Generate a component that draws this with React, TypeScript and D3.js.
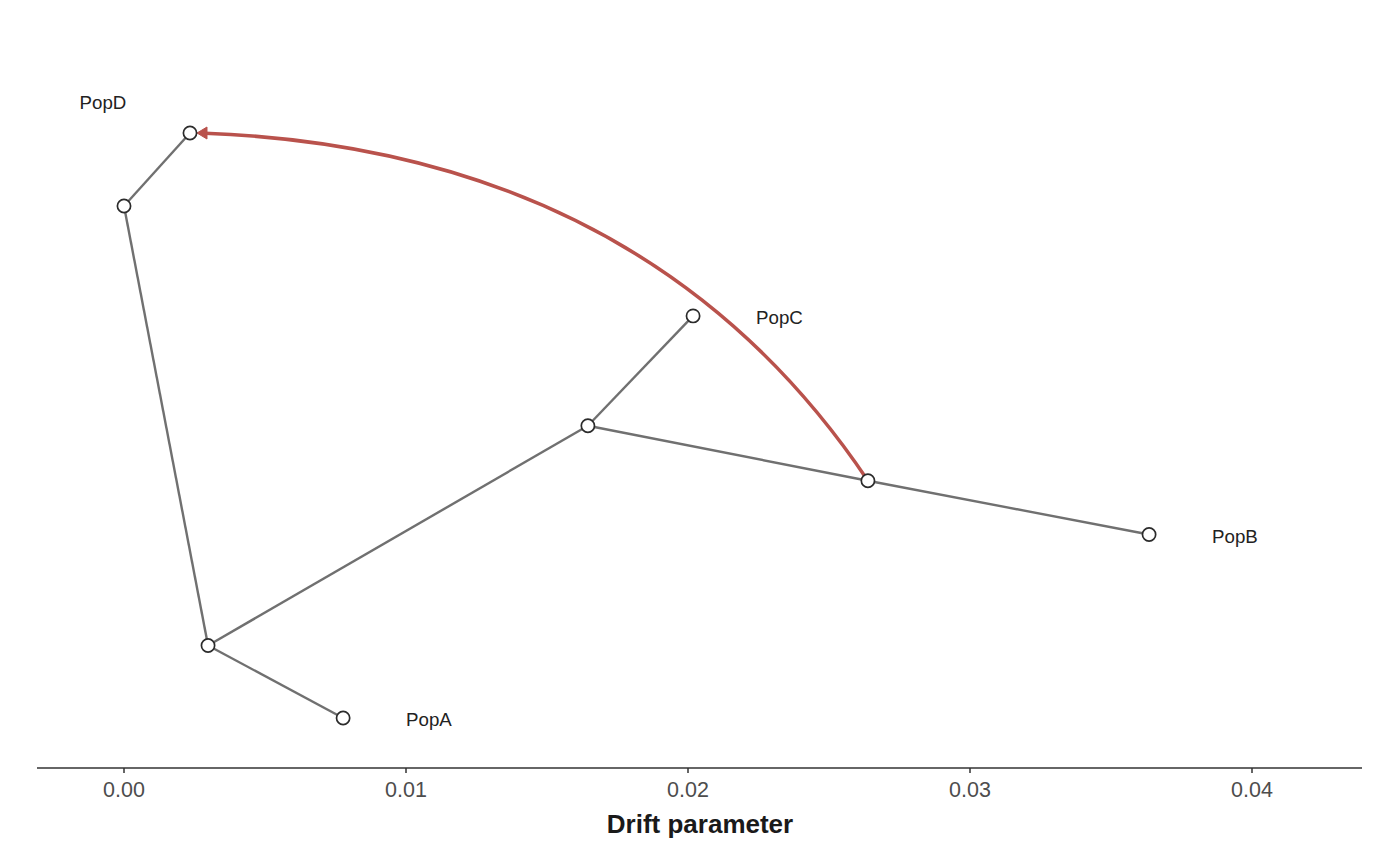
import React from "react";
import * as d3 from "d3";

// ---- data ----
const nodeNames = ["R", "PopD", "A1", "PopA", "N2", "PopC", "N3", "PopB"];
const nodeDrift = [0.0, 0.00234, 0.00298, 0.00777, 0.01645, 0.02018, 0.02638, 0.03635];
const nodeRow = [1.33, 0.0, 9.33, 10.65, 5.33, 3.33, 6.33, 7.31];
const leafNames = ["PopA", "PopB", "PopC", "PopD"];
const edgeFrom = ["R", "R", "A1", "A1", "N2", "N2", "N3"];
const edgeTo = ["PopD", "A1", "PopA", "N2", "PopC", "N3", "PopB"];
const admixFrom = ["N3"];
const admixTo = ["PopD"];
const xTicks = [0.0, 0.01, 0.02, 0.03, 0.04];
const xTitle = "Drift parameter";

const W = 1400;
const H = 865;

export default function App() {
  const x = d3.scaleLinear().domain([0, 0.04]).range([124, 1252]);
  const y = d3.scaleLinear().domain([0, 10.65]).range([133, 718]);
  const pos = (n: string) => {
    const i = nodeNames.indexOf(n);
    return [x(nodeDrift[i]), y(nodeRow[i])];
  };
  const font = "'Liberation Sans', Arial, Helvetica, sans-serif";
  const red = "#B9524C";
  const gray = "#707070";
  const axisY = 768;

  const admixPaths = admixFrom.map((f, i) => {
    const [x0, y0] = pos(f);
    const [x2, y2] = pos(admixTo[i]);
    const x2a = x2 + 7;
    const cx = x0 + 0.33 * (x2a - x0);
    const cy = y0 + 0.95 * (y2 - y0);
    const p = d3.path();
    p.moveTo(x0, y0);
    const xe = x2a + 8;
    p.quadraticCurveTo(cx, cy, xe, y2 + 0.2);
    return { d: p.toString(), tipX: x2a, tipY: y2 };
  });

  return (
    <svg
      width={W}
      height={H}
      style={{ display: "block", background: "#fff", position: "absolute", left: 0, top: 0 }}
      fontFamily={font}
    >
      {edgeFrom.map((f, i) => {
        const [x1, y1] = pos(f);
        const [x2, y2] = pos(edgeTo[i]);
        return <line key={i} x1={x1} y1={y1} x2={x2} y2={y2} stroke={gray} strokeWidth={2.4} />;
      })}
      {admixPaths.map((a, i) => (
        <g key={"a" + i}>
          <path d={a.d} fill="none" stroke={red} strokeWidth={3.5} />
          <path
            d={`M${a.tipX},${a.tipY} L${a.tipX + 10},${a.tipY - 6} L${a.tipX + 10},${a.tipY + 6} Z`}
            fill={red}
            stroke={red}
            strokeWidth={1}
            strokeLinejoin="round"
          />
        </g>
      ))}
      {nodeNames.map((n) => {
        const [cx, cy] = pos(n);
        return <circle key={n} cx={cx} cy={cy} r={6.6} fill="#fff" stroke="#2b2b2b" strokeWidth={1.7} />;
      })}
      {leafNames.map((n) => {
        const [cx, cy] = pos(n);
        const above = n === "PopD";
        return (
          <text
            key={"l" + n}
            x={above ? cx - 87 : cx + 63}
            y={above ? cy - 31 : cy + 1.5}
            textAnchor={above ? "middle" : "start"}
            dominantBaseline="central"
            fontSize={18.7}
            fill="#222"
          >
            {n}
          </text>
        );
      })}
      <line x1={37} x2={1362} y1={axisY} y2={axisY} stroke="#333" strokeWidth={1.5} />
      {xTicks.map((t) => (
        <g key={"t" + t}>
          <line x1={x(t)} x2={x(t)} y1={axisY} y2={axisY + 5} stroke="#333" strokeWidth={1.5} />
          <text x={x(t)} y={axisY + 22} textAnchor="middle" dominantBaseline="central" fontSize={21.5} fill="#4d4d4d">
            {d3.format(".2f")(t)}
          </text>
        </g>
      ))}
      <text x={700} y={824} textAnchor="middle" dominantBaseline="central" fontSize={26} fontWeight="bold" fill="#1a1a1a">
        {xTitle}
      </text>
    </svg>
  );
}
